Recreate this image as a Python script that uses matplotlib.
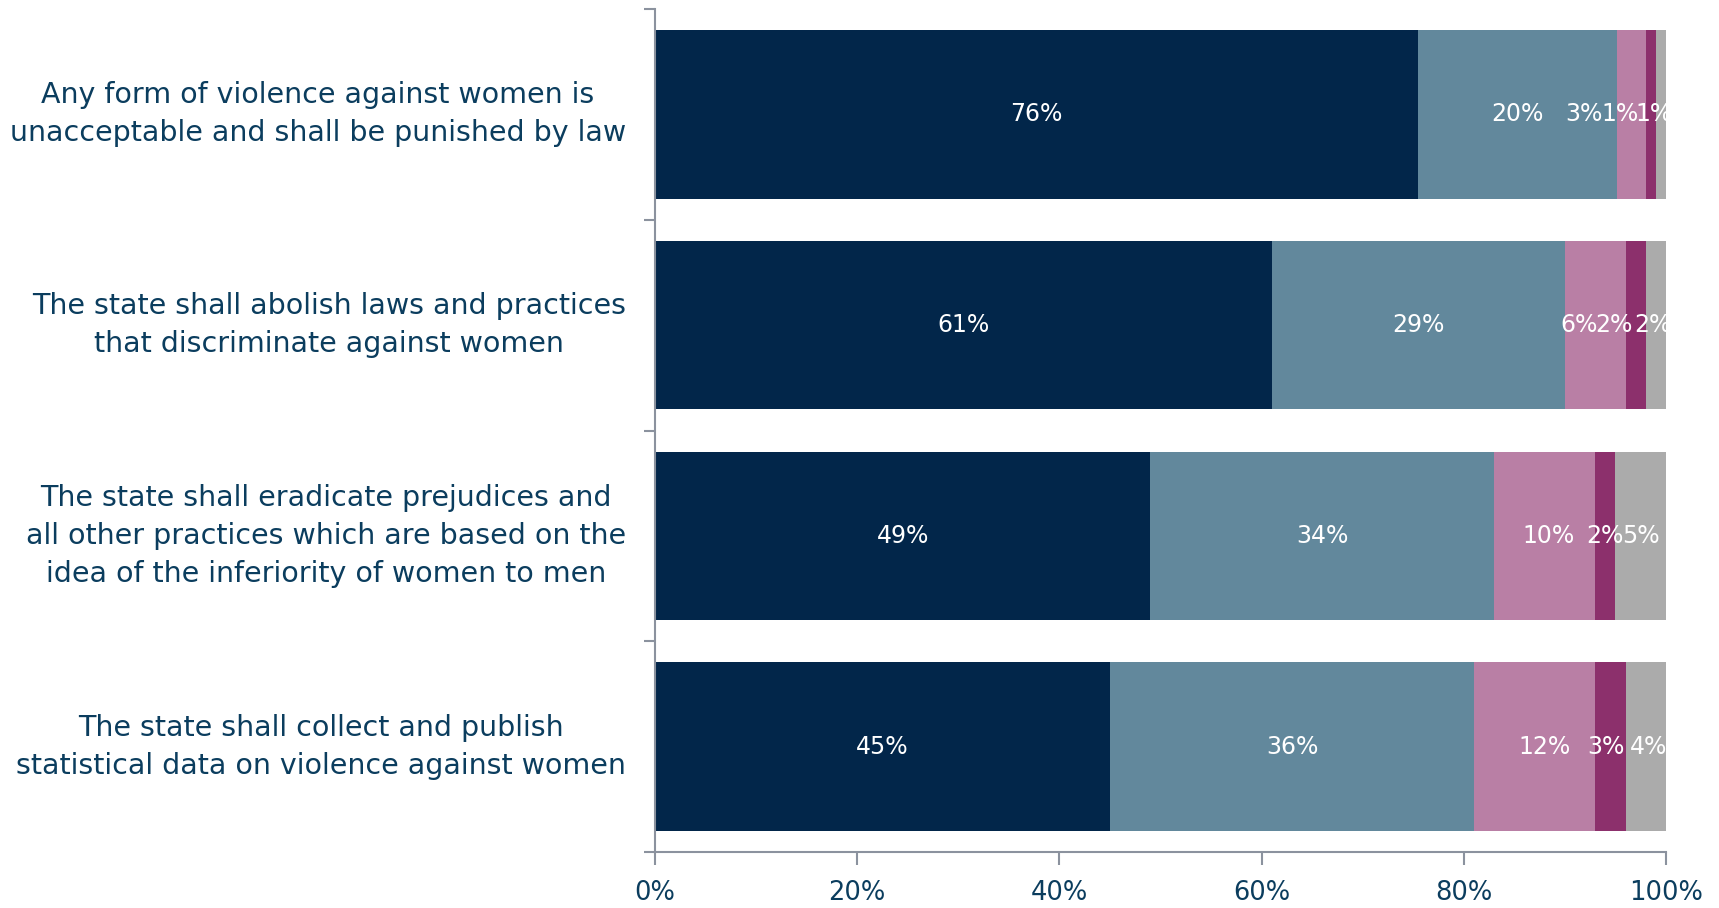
import numpy as np
import matplotlib
matplotlib.use("Agg")
import matplotlib.pyplot as plt
from matplotlib.transforms import ScaledTranslation

# --------------------------
# Data
# --------------------------
statements = [
    "Any form of violence against women is\nunacceptable and shall be punished by law",
    "The state shall abolish laws and practices\nthat discriminate against women",
    "The state shall eradicate prejudices and\nall other practices which are based on the\nidea of the inferiority of women to men",
    "The state shall collect and publish\nstatistical data on violence against women",
]

# one list per answer segment, left to right
seg1 = [75.5, 61, 49, 45]
seg2 = [19.6, 29, 34, 36]
seg3 = [2.9, 6, 10, 12]
seg4 = [1.0, 2, 2, 3]
seg5 = [1.0, 2, 5, 4]

xticks = [0, 20, 40, 60, 80, 100]

# --------------------------
# Style
# --------------------------
colors = ["#02264A", "#62889C", "#B97FA5", "#8C306C", "#ABABAB"]
text_col = "#0B3D5E"
spine_col = "#8B929E"

# label nudges (in % units) where the original labels were moved off-centre
nudges = [
    [0, 0, -4.7, -3.0, -0.7],
    [0, 0, -1.6, -2.2, -0.3],
    [0, 0, 0.4, 0, 0],
    [0, 0, 1.0, -0.4, 0.3],
]

fig = plt.figure(figsize=(17.19, 9.08), dpi=100)
ax = fig.add_axes([0.381, 0.0617, 0.5882, 0.9283])

series = [seg1, seg2, seg3, seg4, seg5]
y = np.arange(len(statements))
left = np.zeros(len(statements))
for k, vals in enumerate(series):
    vals = np.array(vals, dtype=float)
    ax.barh(y, vals, left=left, height=0.8, color=colors[k], edgecolor="none")
    for i, v in enumerate(vals):
        cx = left[i] + v / 2 + nudges[i][k]
        ax.text(cx, y[i], f"{v:.0f}%", ha="center", va="center",
                color="white", fontsize=17, clip_on=True)
    left += vals

ax.set_xlim(0, 100)
ax.set_ylim(len(statements) - 0.5, -0.5)

ax.set_xticks(xticks)
ax.set_xticklabels([f"{t}%" for t in xticks], fontsize=18.5, color=text_col)

# category labels drawn as text so they can sit right on the bar centres
ax.set_yticks([])
ax.set_yticks(np.arange(len(statements) + 1) - 0.5, minor=True)
lab_tr = ax.get_yaxis_transform() + ScaledTranslation(-29 / 100, 0, fig.dpi_scale_trans)
for i, s in enumerate(statements):
    ax.text(0, y[i], s, transform=lab_tr, ha="right", va="center",
            multialignment="center", linespacing=1.45,
            fontsize=20.5, color=text_col)

ax.tick_params(axis="y", which="minor", length=8, width=1.5, color=spine_col)
ax.tick_params(axis="x", which="major", length=9, width=1.5, color=spine_col, pad=11)

for side in ["top", "right"]:
    ax.spines[side].set_visible(False)
for side in ["left", "bottom"]:
    ax.spines[side].set_color(spine_col)
    ax.spines[side].set_linewidth(1.5)

fig.savefig("out.png", dpi=100)
